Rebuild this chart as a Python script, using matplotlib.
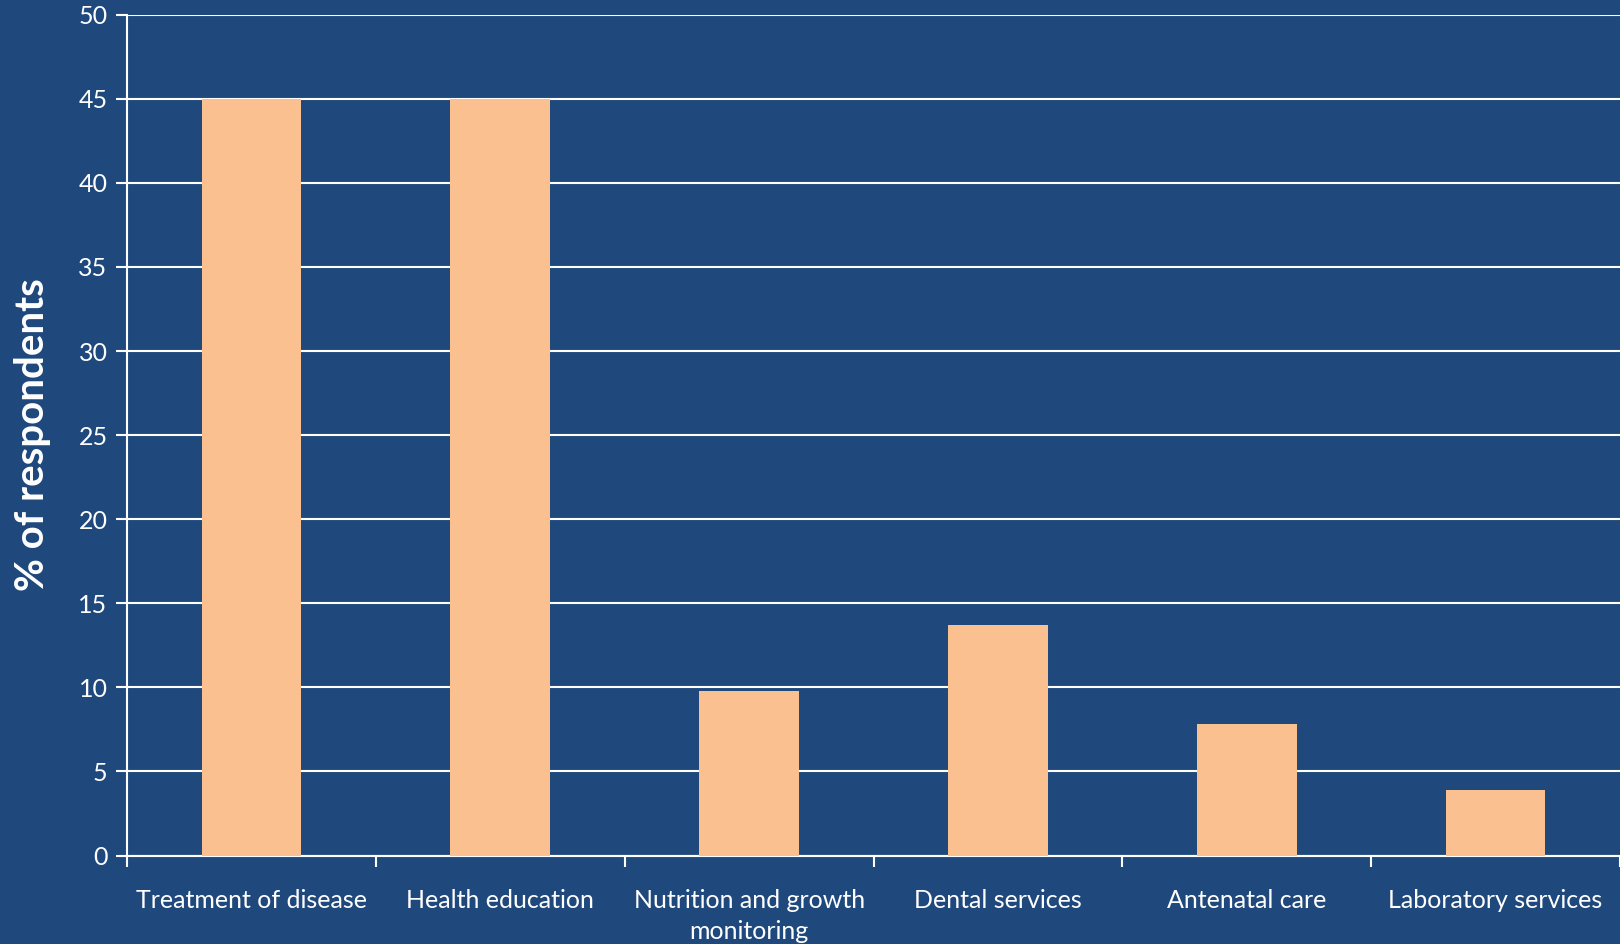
import matplotlib.pyplot as plt
from matplotlib.ticker import FixedLocator

services = ["Treatment of disease", "Health education", "Nutrition and growth\nmonitoring",
            "Dental services", "Antenatal care", "Laboratory services"]
percent = [45.0, 45.0, 9.8, 13.7, 7.8, 3.9]
y_ticks = [0, 5, 10, 15, 20, 25, 30, 35, 40, 45, 50]

bg = "#1F497D"
bar_color = "#FAC090"
plt.rcParams["font.family"] = ["Lato", "DejaVu Sans"]

fig = plt.figure(figsize=(16.2, 9.44), dpi=100, facecolor=bg)
ax = fig.add_axes([127 / 1620, (944 - 855.5) / 944, 1 - 127 / 1620, (855.5 - 14.7) / 944])
ax.set_facecolor(bg)

ax.set_axisbelow(True)
ax.yaxis.grid(True, color="white", linewidth=1.5)
x = list(range(len(services)))
ax.bar(x, percent, width=0.4, color=bar_color, zorder=3)

ax.set_xlim(-0.5, len(services) - 0.5)
ax.set_ylim(0, 50)
ax.set_yticks(y_ticks)
ax.set_xticks(x)
ax.set_xticklabels(services, linespacing=1.45, va="top")
ax.xaxis.set_minor_locator(FixedLocator([i - 0.5 for i in range(len(services) + 1)]))

ax.tick_params(axis="x", which="major", length=0, pad=24, labelsize=18, labelcolor="white")
ax.tick_params(axis="x", which="minor", length=8, width=1.5, color="white", direction="out")
ax.tick_params(axis="y", length=8, width=1.5, color="white", labelsize=18,
               labelcolor="white", pad=6)

for side in ["top", "right"]:
    ax.spines[side].set_visible(False)
for side in ["left", "bottom"]:
    ax.spines[side].set_color("white")
    ax.spines[side].set_linewidth(1.5)

ax.set_ylabel("% of respondents", fontsize=29, fontweight="bold", color="white", labelpad=20)

fig.savefig("out.png", dpi=100, facecolor=bg)
